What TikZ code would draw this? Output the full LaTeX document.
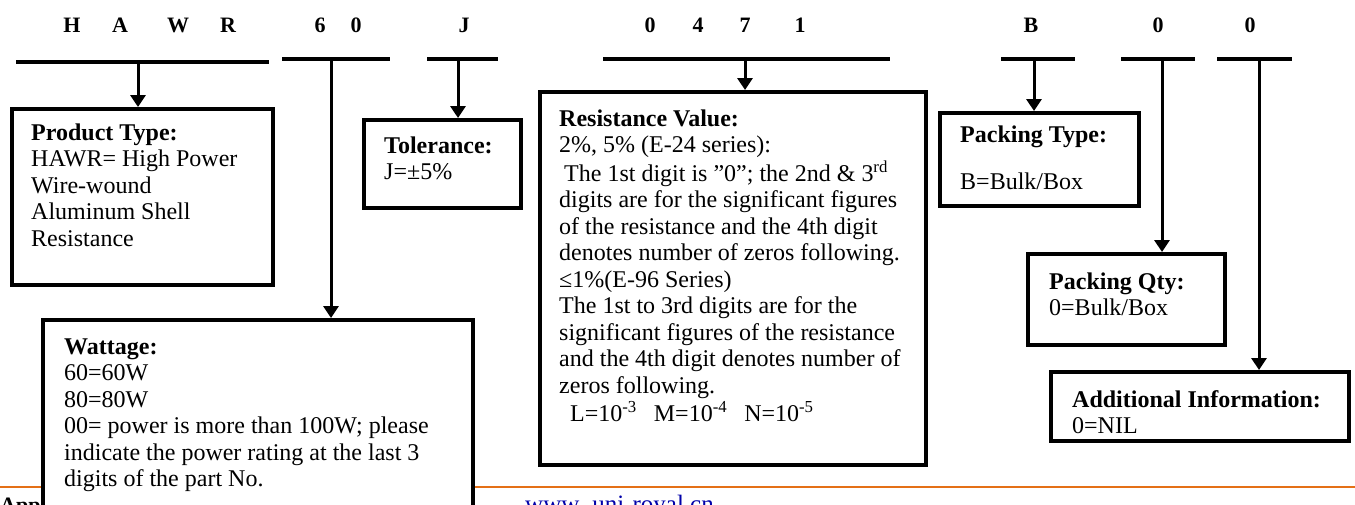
\documentclass[tikz,border=0pt]{standalone}
\usepackage{fontspec}
\setmainfont{Liberation Serif}
\usetikzlibrary{arrows.meta,calc}
\definecolor{footorange}{RGB}{228,112,22}
\definecolor{linkblue}{RGB}{0,0,170}
\newcommand{\blk}[1]{\begin{tabular}[t]{@{}l@{}}#1\end{tabular}}
\begin{document}
\begin{tikzpicture}[x=1pt,y=-1pt,
  box/.style={draw, line width=4pt, fill=white, inner sep=0pt, outer sep=2pt, anchor=north west},
  bar/.style={line width=4pt},
  conn/.style={line width=3pt, -{Triangle[width=15pt,length=12pt]}},
  hdr/.style={font=\fontsize{22}{26}\selectfont\bfseries, anchor=base, inner sep=0pt},
  txt/.style={font=\fontsize{24}{26.5}\selectfont, anchor=base west, inner sep=0pt},
  foot/.style={anchor=base west, inner sep=0pt},
]
\useasboundingbox (0,0) rectangle (1355,504);
\clip (0,0) rectangle (1355,504);
\fill[white] (0,0) rectangle (1355,504);

% header letters
\foreach \n/\x/\t in {h1/72/H, h2/120/A, h3/178/W, h4/228/R, h5/320/6, h6/356/0,
  h7/464/J, h8/650/0, h9/698/4, h10/745/7, h11/800/1, h12/1031/B, h13/1158/0, h14/1250/0}
  \node[hdr] (\n) at (\x,32) {\t};

% footer
\draw[footorange, line width=2pt] (0,487) coordinate (fl) -- (1355,487) coordinate (fr);
\node[foot, font=\fontsize{22}{26}\selectfont\bfseries] (app) at (0,512) {App};
\node[foot, font=\fontsize{25}{26}\selectfont, text=linkblue] (url) at (525,512) {www. uni-royal.cn};

% boxes
\node[box, minimum width=261pt, minimum height=176pt] (prod)  at (10,107) {};
\node[box, minimum width=430pt, minimum height=220pt] (watt)  at (41,318) {};
\node[box, minimum width=157pt, minimum height=88pt]  (tol)   at (362,118) {};
\node[box, minimum width=386pt, minimum height=373pt] (res)   at (538,90) {};
\node[box, minimum width=199pt, minimum height=93pt]  (ptype) at (938,111) {};
\node[box, minimum width=197pt, minimum height=91pt]  (pqty)  at (1026,252) {};
\node[box, minimum width=298pt, minimum height=69pt]  (add)   at (1049,370) {};

% bars and connectors
\coordinate (b1l) at (16,62);   \coordinate (b1r) at (269,62);  \coordinate (b1a) at (138,62);
\coordinate (b2l) at (282,59);  \coordinate (b2r) at (390,59);  \coordinate (b2a) at (331,59);
\coordinate (b3l) at (427,59);  \coordinate (b3r) at (498,59);  \coordinate (b3a) at (458,59);
\coordinate (b4l) at (603,59);  \coordinate (b4r) at (890,59);  \coordinate (b4a) at (745,59);
\coordinate (b5l) at (1001,59); \coordinate (b5r) at (1075,59); \coordinate (b5a) at (1034,59);
\coordinate (b6l) at (1121,59); \coordinate (b6r) at (1195,59); \coordinate (b6a) at (1162,59);
\coordinate (b7l) at (1217,59); \coordinate (b7r) at (1292,59); \coordinate (b7a) at (1259,59);
\foreach \i in {1,...,7} \draw[bar] (b\i l) -- (b\i r);
\draw[conn] (b1a) -- (b1a |- prod.north);
\draw[conn] (b2a) -- (b2a |- watt.north);
\draw[conn] (b3a) -- (b3a |- tol.north);
\draw[conn] (b4a) -- (b4a |- res.north);
\draw[conn] (b5a) -- (b5a |- ptype.north);
\draw[conn] (b6a) -- (b6a |- pqty.north);
\draw[conn] (b7a) -- (b7a |- add.north);

% texts
\node[txt] (prodt) at (31,140) {\blk{\textbf{Product Type:}\\ HAWR= High Power\\ Wire-wound\\ Aluminum Shell\\ Resistance}};
\node[txt] (tolt) at (384,153) {\blk{\textbf{Tolerance:}\\ J=±5\%}};
\node[txt] (rest) at (559,126) {\blk{\textbf{Resistance Value:}\\
2\%, 5\% (E-24 series):\\
\hspace{5pt}The 1st digit is ”0”; the 2nd \& 3\textsuperscript{rd}\\
digits are for the significant figures\\
of the resistance and the 4th digit\\
denotes number of zeros following.\\
≤1\%(E-96 Series)\\
The 1st to 3rd digits are for the\\
significant figures of the resistance\\
and the 4th digit denotes number of\\
zeros following.\\
\hspace{11pt}L=10\textsuperscript{-3}\hspace{17pt}M=10\textsuperscript{-4}\hspace{17pt}N=10\textsuperscript{-5}}};
\node[txt] (wattt) at (64,354) {\blk{\textbf{Wattage:}\\ 60=60W\\ 80=80W\\ 00= power is more than 100W; please\\ indicate the power rating at the last 3\\ digits of the part No.}};
\node[txt] (ptypet) at (960,142) {\textbf{Packing Type:}};
\node[txt] (ptypev) at (960,189) {B=Bulk/Box};
\node[txt] (pqtyt) at (1049,289) {\blk{\textbf{Packing Qty:}\\ 0=Bulk/Box}};
\node[txt] (addt) at (1072,407) {\blk{\textbf{Additional Information:}\\ 0=NIL}};
\end{tikzpicture}
\end{document}
